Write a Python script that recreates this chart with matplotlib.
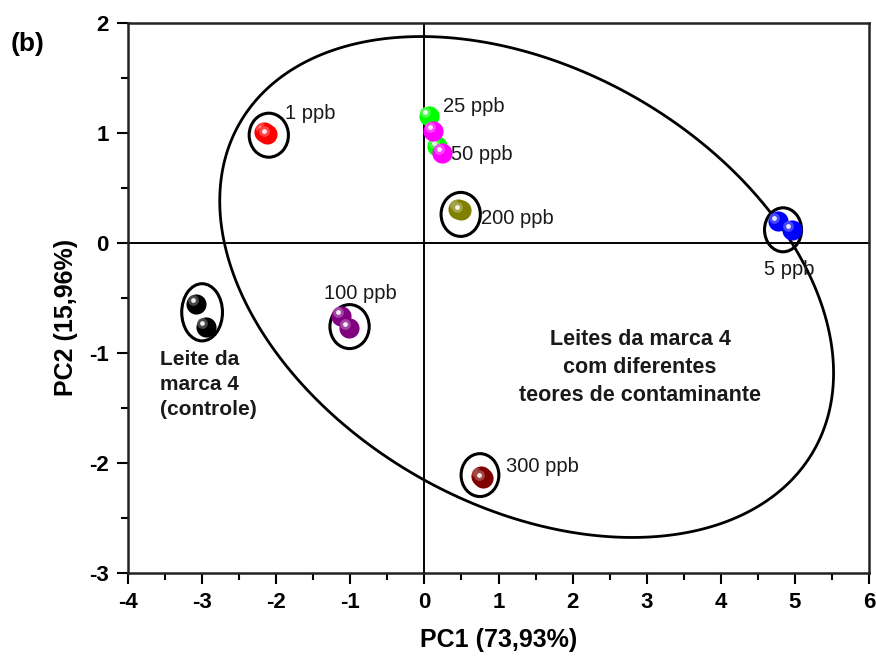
import numpy as np
import matplotlib
matplotlib.use("Agg")
import matplotlib.pyplot as plt
from matplotlib.patches import Ellipse, Polygon
from matplotlib.transforms import ScaledTranslation
from matplotlib.colors import to_rgb

plt.rcParams["font.family"] = ["Liberation Sans", "DejaVu Sans"]
plt.rcParams["axes.unicode_minus"] = False

# PCA scores (PC1, PC2)
groups = ["controle", "1 ppb", "5 ppb", "25 ppb", "50 ppb", "100 ppb", "200 ppb", "300 ppb"]
colors = ["#000000", "#ff0000", "#0000ff", "#00ff00", "#ff00ff", "#800080", "#808000", "#800000"]
pc1 = [
    [-3.08, -2.95],
    [-2.16, -2.12],
    [4.77, 4.96],
    [0.06, 0.17],
    [0.12, 0.24],
    [-1.12, -1.02],
    [0.46, 0.49],
    [0.76, 0.79],
]
pc2 = [
    [-0.55, -0.76],
    [1.01, 0.99],
    [0.20, 0.12],
    [1.155, 0.88],
    [1.02, 0.82],
    [-0.66, -0.77],
    [0.31, 0.30],
    [-2.12, -2.14],
]

# small group circles: centre x, centre y, width, height
circ_x = [-3.00, -2.10, 4.84, -1.01, 0.49, 0.75]
circ_y = [-0.63, 0.98, 0.12, -0.76, 0.26, -2.11]
circ_w = [0.55, 0.53, 0.50, 0.53, 0.53, 0.51]
circ_h = [0.52, 0.40, 0.40, 0.40, 0.40, 0.39]

# big ellipse around the contaminated samples (conjugate semi-axes)
big_c = (1.38, -0.40)
big_a = (-4.14, 0.72)
big_b = (-0.12, 2.16)

# annotations
lab_text = ["1 ppb", "25 ppb", "50 ppb", "200 ppb", "5 ppb", "100 ppb", "300 ppb"]
lab_x = [-1.88, 0.25, 0.36, 0.77, 4.92, -0.87, 1.10]
lab_y = [1.18, 1.245, 0.80, 0.22, -0.245, -0.455, -2.035]
lab_ha = ["left", "left", "left", "left", "center", "center", "left"]


def lighten(c, f):
    r, g, b = to_rgb(c)
    return (r + (1 - r) * f, g + (1 - g) * f, b + (1 - b) * f)


fig = plt.figure(figsize=(8.76, 6.59), dpi=100)
ax = fig.add_axes([128 / 876, 1 - 573 / 659, 741 / 876, 550 / 659])

ax.axhline(0, color="black", lw=1.4, zorder=1)
ax.axvline(0, color="black", lw=1.4, zorder=1)

t = np.linspace(0, 2 * np.pi, 400, endpoint=False)
ex = big_c[0] + big_a[0] * np.cos(t) + big_b[0] * np.sin(t)
ey = big_c[1] + big_a[1] * np.cos(t) + big_b[1] * np.sin(t)
ax.add_patch(Polygon(np.column_stack([ex, ey]), closed=True, fill=False,
                     ec="black", lw=2, zorder=2))

for x, y, w, h in zip(circ_x, circ_y, circ_w, circ_h):
    ax.add_patch(Ellipse((x, y), w, h, fill=False, ec="black", lw=2.2, zorder=3))

# shaded "sphere" markers
hl = ax.transData + ScaledTranslation(-2.5 / 72, 2.5 / 72, fig.dpi_scale_trans)
order = [0, 1, 2, 5, 6, 7, 3, 4]
for k in range(len(groups)):
    for j in range(2):
        i = order[k]
        x, y, c = pc1[i][j], pc2[i][j], colors[i]
        z = 4 + k * 0.1 + j * 0.01
        ax.scatter([x], [y], s=210, color=c, lw=0, zorder=z)
        ax.scatter([x], [y], s=60, color=lighten(c, 0.35), lw=0, zorder=z + 0.001,
                   transform=hl, alpha=0.8)
        ax.scatter([x], [y], s=12, color="white", lw=0, zorder=z + 0.002,
                   transform=hl, alpha=0.9)

for s, x, y, ha in zip(lab_text, lab_x, lab_y, lab_ha):
    ax.text(x, y, s, ha=ha, va="center", fontsize=14.5, color="#1a1a1a")

ax.text(-3.57, -1.29, "Leite da\nmarca 4\n(controle)", ha="left", va="center",
        fontsize=15, fontweight="bold", linespacing=1.4, color="#1a1a1a")
ax.text(2.91, -1.13, "Leites da marca 4\ncom diferentes\nteores de contaminante",
        ha="center", va="center", fontsize=15.5, fontweight="bold",
        linespacing=1.45, color="#1a1a1a")

ax.set_xlim(-4, 6)
ax.set_ylim(-3, 2)
ax.set_xticks(range(-4, 7))
ax.set_yticks(range(-3, 3))
ax.set_xticks(np.arange(-3.5, 6, 1), minor=True)
ax.set_yticks(np.arange(-2.5, 2, 1), minor=True)
ax.tick_params(which="major", direction="out", length=8, width=1.5, labelsize=16,
               pad=6, top=False, right=False)
ax.tick_params(which="minor", direction="out", length=5, width=1.5, top=False, right=False)
for lab in ax.get_xticklabels() + ax.get_yticklabels():
    lab.set_fontweight("bold")
for sp in ax.spines.values():
    sp.set_linewidth(1.8)
    sp.set_color("#222222")

ax.set_xlabel("PC1 (73,93%)", fontsize=18, fontweight="bold")
ax.set_ylabel("PC2 (15,96%)", fontsize=18, fontweight="bold")
ax.yaxis.set_label_coords(-0.067, 0.465)
ax.xaxis.set_label_coords(0.5, -0.10)

fig.text(28 / 876, 1 - 44 / 659, "(b)", ha="center", va="center", fontsize=19,
         fontweight="bold")

fig.savefig("out.png", dpi=100)
